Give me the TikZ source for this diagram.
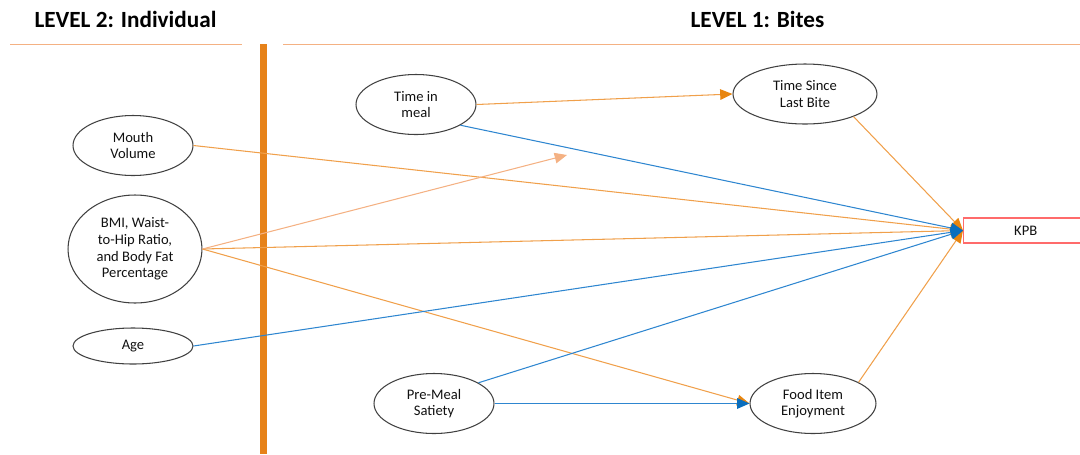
\documentclass[tikz,border=0pt]{standalone}
\usepackage{fontspec}
\setmainfont{Carlito}
\usetikzlibrary{arrows.meta,shapes.geometric}
\definecolor{lineor}{HTML}{F0A04B}
\definecolor{heador}{HTML}{E8850F}
\definecolor{lightor}{HTML}{F4B183}
\definecolor{vor}{HTML}{E6821A}
\definecolor{lblue}{HTML}{2E86D0}
\definecolor{hblue}{HTML}{0A6EBD}
\definecolor{kpbred}{HTML}{FF6B6B}
\definecolor{egray}{HTML}{404040}
\definecolor{txt}{HTML}{111111}
\begin{document}
\begin{tikzpicture}[x=0.02cm,y=-0.02cm,
  ell/.style={ellipse, draw=egray, line width=0.6pt, inner sep=0pt, align=center, text=txt,
    font=\fontsize{8.3}{9.45}\selectfont},
  title/.style={font=\bfseries\fontsize{13.2}{15}\selectfont, text=black},
  hdr/.style={draw=lightor, line width=1.1pt},
  orarrow/.style={draw=lineor, line width=0.6pt, -{Triangle[length=7pt,width=6pt,color=heador]}},
  lorarrow/.style={draw=lightor, line width=0.6pt, -{Triangle[length=7pt,width=6pt,color=lightor]}},
  bluearrow/.style={draw=lblue, line width=0.6pt, -{Triangle[length=7pt,width=6pt,color=hblue]}},
  kpbbox/.style={rectangle, draw=kpbred, line width=0.8pt, minimum width=2.48cm, minimum height=0.5cm,
    inner sep=0pt, font=\fontsize{8.3}{9.45}\selectfont, text=txt}]
\useasboundingbox (0,0) rectangle (1080,454);
% titles and header lines
\node[title] (t2) at (125.5,19) {LEVEL 2: Individual};
\node[title] (t1) at (757.5,19) {LEVEL 1: Bites};
\draw[hdr] (10,44.5) -- (242,44.5);
\draw[hdr] (283,44.5) -- (1080,44.5);
\draw[draw=vor, line width=4pt] (263.5,44) -- (263.5,454);
% nodes
\node[ell, minimum width=2.4cm, minimum height=1.2cm] (tim) at (416,104.5) {Time in\\meal};
\node[ell, minimum width=2.88cm, minimum height=1.2cm] (tslb) at (805,94) {Time Since\\Last Bite};
\node[ell, minimum width=2.4cm, minimum height=1.2cm] (mv) at (133,145.5) {Mouth\\Volume};
\node[ell, minimum width=2.68cm, minimum height=2.16cm] (bmi) at (135,249) {BMI, Waist-\\to-Hip Ratio,\\and Body Fat\\Percentage};
\node[ell, minimum width=2.4cm, minimum height=0.72cm] (age) at (133,346) {Age};
\node[ell, minimum width=2.4cm, minimum height=1.2cm] (pms) at (434,403.5) {Pre-Meal\\Satiety};
\node[ell, minimum width=2.52cm, minimum height=1.2cm] (fie) at (813,403.5) {Food Item\\Enjoyment};
\node[kpbbox, anchor=west] (kpb) at (963,230.5) {KPB};
\coordinate (mod) at (567,155);
% orange connectors
\draw[orarrow] (tim.east) -- (tslb.west);
\draw[orarrow] (tslb.-25) -- (kpb.west);
\draw[orarrow] (mv.east) -- (kpb.west);
\draw[orarrow] (bmi.east) -- (kpb.west);
\draw[orarrow] (bmi.east) -- (fie.west);
\draw[orarrow] (fie.25) -- (kpb.west);
\draw[lorarrow] (bmi.east) -- (mod);
% blue connectors
\draw[bluearrow] (tim.-25.5) -- (kpb.west);
\draw[bluearrow] (age.east) -- (kpb.west);
\draw[bluearrow] (pms.25) -- (kpb.west);
\draw[bluearrow] (pms.east) -- (fie.west);
\end{tikzpicture}
\end{document}
